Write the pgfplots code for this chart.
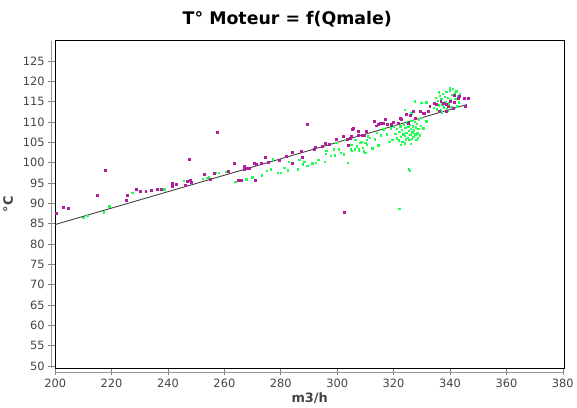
\documentclass[border=0pt]{standalone}
\usepackage{fontspec}
\setmainfont{DejaVu Sans}
\usepackage{pgfplots}
\pgfplotsset{compat=1.18}
\definecolor{mag}{HTML}{B0209A}
\definecolor{grn}{HTML}{20FF50}
\definecolor{tickgray}{HTML}{444444}

\begin{document}
\begin{tikzpicture}
\begin{axis}[
  name=main,
  width=513pt, height=330pt, scale only axis,
  xmin=200, xmax=380.5, ymin=49.5, ymax=130,
  xtick={200,220,...,380}, ytick={50,55,...,125},
  tick align=outside, tick pos=left,
  major tick length=7pt,
  tick style={gray, line width=0.6pt},
  ticklabel style={font=\fontsize{11.5}{13}\selectfont, text=tickgray},
  /pgf/number format/assume math mode=true,
  /pgf/number format/1000 sep={},
  axis line style={black, line width=0.8pt},
  title={\bfseries\fontsize{17.5}{21}\selectfont T° Moteur = f(Qmale)},
  title style={at={(0.456,1)}, anchor=south, yshift=4pt},
  xlabel={\bfseries m3/h},
  xlabel style={font=\fontsize{13}{15}\selectfont, text=tickgray, yshift=1pt},
  ylabel={\bfseries °C},
  ylabel style={font=\fontsize{13}{15}\selectfont, text=tickgray, yshift=3pt},
]
% regression line
\addplot[black!75, line width=0.9pt] coordinates {(200,84.8) (346,114.3)};

% green series
\addplot[only marks, mark=square*, mark size=0.7pt, color=grn] coordinates {
(210,86.5) (211.3,87.0) (217.3,87.8) (219.2,89.3) (227.3,92.6) (238.7,93.5)
(245.5,95.6) (252.3,96.1) (253.7,96.3) (254.5,96.4) (257,97.6) (257.9,97.5)
(260.7,97.8) (263.8,95.3) (267.8,95.9) (269.8,96.4) (273.3,96.9) (275.1,98)
(276.5,98.4) (277.1,100.9) (278.9,97.6) (280,97.6) (281.2,98.7) (282.4,98.2)
(282.7,100.2) (285.9,98.4) (286.5,100.7) (287.7,99.6) (288.3,100.2) (289.4,99.2)
(291.2,99.9) (292.3,100) (293.3,100.7) (295.6,100.2) (295.9,102.2) (296.1,102.9)
(297.6,101.7) (298.8,103.3) (299.2,101.8) (299.6,104.9) (300.6,103.3) (301.2,102.5)
(302.3,102.1) (302.7,105.7) (303.8,100) (304.7,103.3) (305,104.5) (305.2,102.9)
(306.2,103.3) (306.4,105.7) (307,104.1) (307.6,102.9) (308.2,104.9) (309,103.7)
(309.9,104.9) (309.9,102.5) (310.5,105.7) (310.8,106.5)
(307.6,103.5) (308.5,105.2) (309.3,102.8) (310.5,104.5) (311.5,106.2) (312.4,103.6)
(313.2,105.8) (314.0,107.4) (314.6,104.3) (315.5,106.8) (316.3,108.2) (317.5,107.0)
(318.4,105.2) (319.0,108.5)
(320.5,107.2) (321.0,106.0) (321.2,108.4) (321.8,105.5) (322.0,107.6) (322.3,109.0)
(322.6,106.4) (322.9,108.1) (323.1,105.2) (323.4,107.0) (323.6,109.5) (323.9,106.7)
(324.1,108.6) (324.3,105.8) (324.5,107.4) (324.7,110.0) (325.0,106.2) (325.2,108.9)
(325.3,107.8) (325.5,105.6) (325.7,109.4) (325.9,106.9) (326.1,108.3) (326.3,110.4)
(326.4,105.9) (326.6,107.5) (326.8,109.0) (327.0,106.4) (327.2,108.0) (327.4,110.1)
(327.6,107.0) (327.8,108.7) (328.0,105.7) (328.2,109.6) (328.4,107.3) (328.7,108.3)
(329.0,110.7) (329.3,106.8) (329.6,109.1) (330.0,111.0) (324.0,104.8) (326.0,104.6)
(322.5,104.4) (328.5,106.1) (330.5,108.5) (331.5,110.2) (320.0,109.0) (319.5,105.7)
(324,113) (327.5,115.1) (329.8,114.7) (331.6,114.9) (326.3,112.2)
(334.2,113.5) (334.6,114.8) (335.0,116.0) (335.3,113.2) (335.7,115.3) (336.0,114.1)
(336.3,116.5) (336.6,113.0) (336.9,115.7) (337.2,114.4) (337.5,117.0) (337.8,113.6)
(338.1,116.2) (338.3,115.0) (338.6,117.4) (338.9,113.3) (339.2,116.0) (339.5,114.6)
(339.8,117.8) (340.1,115.5) (340.4,113.8) (340.7,116.7) (341.0,118.2) (341.3,114.9)
(341.6,117.1) (341.9,115.8) (342.2,117.6) (342.5,113.9) (342.8,116.4) (343.1,114.9)
(339.0,112.8) (337.0,112.4) (340.0,118.5) (343.5,116.8) (336.0,117.3)
(325.4,98.4) (325.7,98.0) (322.0,88.7)
};

% magenta series
\addplot[only marks, mark=square*, mark size=1.0pt, color=mag] coordinates {
(200.4,87.7) (202.7,89.1) (204.5,88.7) (214.8,92.1) (217.9,98.1) (225.6,92.1)
(225.3,90.9) (228.8,93.5) (230,93.0) (232.1,93.0) (234.2,93.3) (236.3,93.5)
(237.5,93.5) (241.5,95.0) (241.5,94.3) (242.9,94.7) (246.1,94.5) (246.9,95.5)
(247.8,95.7) (248.4,95.2) (247.4,100.9) (252.7,97.1) (254.9,96.0) (256.5,97.4)
(257.3,107.4) (261.4,98.0) (263.6,100.0) (264.8,95.7) (265.9,95.7) (267.2,99.2)
(267.2,98.4) (267.8,98.7) (268.9,98.6) (270.7,99.9) (271.3,99.6) (270.8,95.7)
(273,100) (274.5,101.4) (275.4,100.2) (279.5,100.6) (281.8,101.7) (283.9,102.5)
(283.9,100) (287.7,101.3) (287.4,102.8) (289.2,109.4) (292.3,103.7) (295.6,104.9)
(297,104.5) (299.6,105.7) (302,106.5) (302.6,87.8) (303.5,105.7) (303.8,104.3)
(305,106.5) (305.4,108.3) (307.4,107.8) (307.4,106.7) (308.8,106.7) (309.7,106.7)
(310.3,107.8) (313.2,110.2) (314,109.1) (315.2,109.8) (316.4,109.8)
(317,110.6) (317.6,109.4) (319.3,109.4) (319.9,110) (321.7,109.8) (322.8,110.6)
(324.6,112) (325.8,111.8) (326.9,112.6) (327.5,111) (329.3,112.6) (330.4,112.2)
(332.2,112.6) (332.8,113.9) (334.3,114.7) (335.1,114.5) (336.3,112.6) (336.7,115.1)
(337.5,114.7) (338.6,114.5) (339.2,113.9) (340.2,115.1) (341,113.5) (341.6,114.9)
(342.8,115.9) (344.9,115.9) (345.3,114.0) (341.6,116.7) (343.3,116.3) (346.3,115.9)
(338.7,112.6) (331,112.2) (325.2,109.8) (322.2,111) (314.6,109.4) (305.8,108.6)
(304.7,106.1) (294.7,104.1) (291.8,103.3) (284.1,100)
};
\end{axis}
\draw[gray!80, line width=0.6pt] ([xshift=-4pt]main.south west) -- ([xshift=-4pt]main.north west);
\draw[gray!80, line width=0.6pt] ([yshift=-4pt]main.south west) -- ([yshift=-4pt]main.south east);
\path ([shift={(-54pt,-38pt)}]main.south west) rectangle ([shift={(10pt,41pt)}]main.north east);
\end{tikzpicture}
\end{document}
